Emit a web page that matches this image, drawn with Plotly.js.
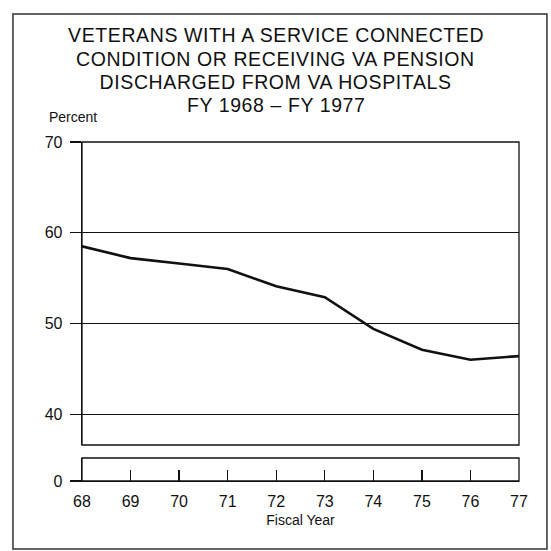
<!DOCTYPE html>
<html>
<head>
<meta charset="utf-8">
<script src="https://cdn.plot.ly/plotly-3.0.1.min.js"></script>
<style>
html, body { margin: 0; padding: 0; background: #fff; }
#chart { width: 551px; height: 551px; }
.infolayer .annotation text.ttl { letter-spacing: 0.6px; }
</style>
</head>
<body>
<div id="chart"></div>
<script>
// Data
const fiscalYears = [68, 69, 70, 71, 72, 73, 74, 75, 76, 77];
const percentValues = [58.5, 57.2, 56.6, 56.0, 54.1, 52.9, 49.4, 47.1, 46.0, 46.4];
const xTickLabels = ['68', '69', '70', '71', '72', '73', '74', '75', '76', '77'];
const upperTicks = [40, 50, 60, 70];
const lowerTicks = [0];
const titleLines = [
  'VETERANS WITH A SERVICE CONNECTED',
  'CONDITION OR RECEIVING VA PENSION',
  'DISCHARGED FROM VA HOSPITALS',
  'FY 1968 \u2013 FY 1977'
];
const yLabel = 'Percent';
const xLabel = 'Fiscal Year';

const FONT = '"Liberation Sans", Arial, Helvetica, sans-serif';
const INK = '#111';

const trace = {
  x: fiscalYears,
  y: percentValues,
  type: 'scatter',
  mode: 'lines',
  xaxis: 'x',
  yaxis: 'y',
  line: { color: INK, width: 2.6 },
  hoverinfo: 'x+y'
};

// empty helper trace so the lower (broken-axis) panel is created
const lowerPanel = {
  x: [], y: [],
  type: 'scatter', mode: 'lines',
  xaxis: 'x', yaxis: 'y2',
  hoverinfo: 'skip', showlegend: false
};

const titleY = [1.3156, 1.2463, 1.1770, 1.1091];
const annotations = titleLines.map((t, i) => ({
  text: t,
  xref: 'paper', yref: 'paper',
  x: 0.4428, y: titleY[i],
  xanchor: 'center', yanchor: 'middle',
  showarrow: false,
  font: { family: FONT, size: 19.5, color: INK }
}));
annotations.push({
  text: yLabel,
  xref: 'paper', yref: 'paper',
  x: -0.081, y: 1.0723,
  xanchor: 'left', yanchor: 'middle',
  showarrow: false,
  font: { family: FONT, size: 14, color: INK }
});

const layout = {
  width: 551,
  height: 551,
  margin: { l: 82, r: 32, t: 142, b: 70, pad: 0 },
  paper_bgcolor: '#fff',
  plot_bgcolor: '#fff',
  showlegend: false,
  font: { family: FONT, color: INK },
  xaxis: {
    anchor: 'y2',
    range: [68, 77],
    tickmode: 'array',
    tickvals: fiscalYears,
    ticktext: xTickLabels,
    ticks: 'inside',
    ticklen: 11,
    tickwidth: 1.3,
    tickcolor: INK,
    ticklabelstandoff: 5,
    showline: true,
    linecolor: INK,
    linewidth: 1.3,
    showgrid: false,
    zeroline: false,
    tickfont: { family: FONT, size: 16, color: INK },
    title: { text: xLabel, font: { family: FONT, size: 14, color: INK }, standoff: 6 }
  },
  yaxis: {
    anchor: 'x',
    domain: [0.1062, 1],
    range: [36.6, 70],
    tickmode: 'array',
    tickvals: upperTicks,
    ticks: 'outside',
    ticklen: 11,
    tickwidth: 1.2,
    tickcolor: INK,
    ticklabelstandoff: 4,
    showline: true,
    linecolor: INK,
    linewidth: 1.3,
    showgrid: true,
    gridcolor: INK,
    gridwidth: 1,
    zeroline: false,
    tickfont: { family: FONT, size: 16, color: INK }
  },
  yaxis2: {
    anchor: 'x',
    domain: [0, 0.0678],
    range: [0, 2.54],
    tickmode: 'array',
    tickvals: lowerTicks,
    ticks: 'outside',
    ticklen: 11,
    tickwidth: 1.2,
    tickcolor: INK,
    ticklabelstandoff: 4,
    showline: true,
    linecolor: INK,
    linewidth: 1.3,
    showgrid: false,
    zeroline: false,
    tickfont: { family: FONT, size: 16, color: INK }
  },
  shapes: [
    { type: 'rect', xref: 'x domain', yref: 'y domain', x0: 0, x1: 1, y0: 0, y1: 1,
      line: { color: INK, width: 1.3 }, layer: 'above' },
    { type: 'rect', xref: 'x domain', yref: 'y2 domain', x0: 0, x1: 1, y0: 0, y1: 1,
      line: { color: INK, width: 1.3 }, layer: 'above' },
    { type: 'rect', xref: 'paper', yref: 'paper', x0: -0.158, x1: 1.064, y0: -0.2006, y1: 1.3776,
      line: { color: '#333', width: 1.5 }, layer: 'below' }
  ],
  annotations: annotations
};

Plotly.newPlot('chart', [trace, lowerPanel], layout, { displayModeBar: false, staticPlot: true }).then(() => {
  document.querySelectorAll('.infolayer .annotation text').forEach((el, i) => {
    if (i < 4) el.classList.add('ttl');
  });
});
</script>
</body>
</html>
